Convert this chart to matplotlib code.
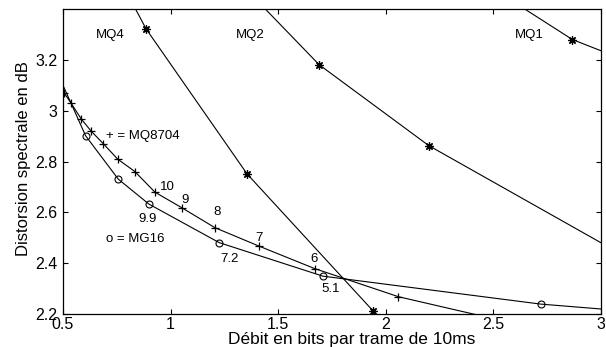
import matplotlib
matplotlib.use("Agg")
import matplotlib.pyplot as plt

plt.rcParams['font.family'] = ['Liberation Sans', 'DejaVu Sans']

# MQ curves (asterisks); first/last entries lie outside the visible axes
mq4_x = [0.80, 0.886, 1.355, 1.941, 2.05]
mq4_y = [3.46, 3.323, 2.752, 2.212, 2.10]
mq2_x = [1.30, 1.690, 2.200, 3.20]
mq2_y = [3.524, 3.182, 2.863, 2.385]
mq1_x = [2.50, 2.867, 3.20]
mq1_y = [3.48, 3.281, 3.17]

# MQ8704 (+)
mq8704_x = [0.495, 0.505, 0.537, 0.584, 0.630, 0.687, 0.754, 0.834, 0.927, 1.051, 1.206, 1.409, 1.669, 2.059, 2.60]
mq8704_y = [3.11, 3.071, 3.031, 2.969, 2.921, 2.871, 2.810, 2.761, 2.680, 2.619, 2.540, 2.468, 2.379, 2.268, 2.162]
mq8704_labels = ["10", "9", "8", "7", "6"]
mq8704_label_x = [0.985, 1.067, 1.214, 1.412, 1.666]
mq8704_label_y = [2.700, 2.650, 2.600, 2.501, 2.416]

# MG16 (o)
mg16_x = [0.495, 0.605, 0.757, 0.899, 1.226, 1.708, 2.720, 3.20]
mg16_y = [3.11, 2.902, 2.731, 2.633, 2.481, 2.349, 2.239, 2.206]
mg16_labels = ["9.9", "7.2", "5.1"]
mg16_label_x = [0.892, 1.272, 1.742]
mg16_label_y = [2.574, 2.416, 2.297]

fig = plt.figure(figsize=(6.06, 3.47), dpi=100)
ax = fig.add_axes([63/606, 1 - 314/347, 538/606, (314 - 9.3)/347])

lw = 0.8
ast = (8, 2, 0)
inner = slice(1, -1)  # markers only on visible (inner) points
for xs, ys in [(mq4_x, mq4_y), (mq2_x, mq2_y), (mq1_x, mq1_y)]:
    ax.plot(xs, ys, color='black', lw=lw, marker=ast, ms=6, mec='black',
            mew=0.9, markevery=inner)

ax.plot(mq8704_x, mq8704_y, color='black', lw=lw, marker='+', ms=6, mew=0.9,
        markevery=inner)
ax.plot(mg16_x, mg16_y, color='black', lw=lw, marker='o', ms=5, mfc='none',
        mec='black', mew=0.8, markevery=inner)

fs = 9.5
for t, x, y in zip(mq8704_labels, mq8704_label_x, mq8704_label_y):
    ax.text(x, y, t, fontsize=fs, ha='center', va='center')
for t, x, y in zip(mg16_labels, mg16_label_x, mg16_label_y):
    ax.text(x, y, t, fontsize=fs, ha='center', va='center')

ax.text(0.718, 3.298, "MQ4", fontsize=fs, ha='center', va='center')
ax.text(1.372, 3.298, "MQ2", fontsize=fs, ha='center', va='center')
ax.text(2.669, 3.298, "MQ1", fontsize=fs, ha='center', va='center')
ax.text(0.70, 2.902, "+ = MQ8704", fontsize=fs, ha='left', va='center')
ax.text(0.70, 2.495, "o = MG16", fontsize=fs, ha='left', va='center')

ax.set_xlim(0.5, 3.0)
ax.set_ylim(2.2, 3.4)
ax.set_xticks([0.5, 1, 1.5, 2, 2.5, 3])
ax.set_xticklabels(["0.5", "1", "1.5", "2", "2.5", "3"])
ax.set_yticks([2.2, 2.4, 2.6, 2.8, 3.0, 3.2])
ax.set_yticklabels(["2.2", "2.4", "2.6", "2.8", "3", "3.2"])
ax.tick_params(direction='in', top=True, right=True, length=3.5, width=0.8, labelsize=11.5)
ax.tick_params(axis='x', pad=2)
ax.tick_params(axis='y', pad=4)
for s in ax.spines.values():
    s.set_linewidth(0.9)

ax.set_xlabel("Débit en bits par trame de 10ms", fontsize=12.5, va='center')
ax.xaxis.set_label_coords(0.537, -0.085)
ax.set_ylabel("Distorsion spectrale en dB", fontsize=12, va='center')
ax.yaxis.set_label_coords(-0.074, 0.509)

fig.savefig("out.png", dpi=100)
